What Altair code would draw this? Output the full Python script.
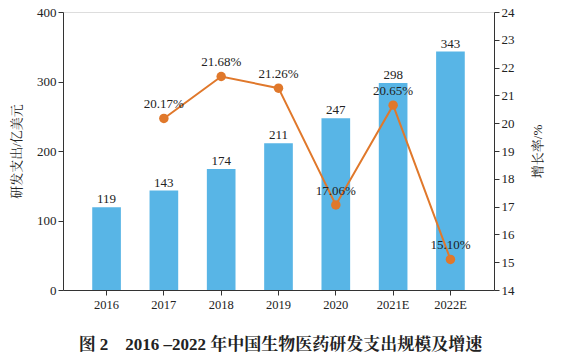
import altair as alt
import pandas as pd

years = ["2016", "2017", "2018", "2019", "2020", "2021E", "2022E"]
spend = [119, 143, 174, 211, 247, 298, 343]
growth_years = ["2017", "2018", "2019", "2020", "2021E", "2022E"]
growth = [20.17, 21.68, 21.26, 17.06, 20.65, 15.10]
growth_labels = ["20.17%", "21.68%", "21.26%", "17.06%", "20.65%", "15.10%"]
left_ticks = [0, 100, 200, 300, 400]
right_ticks = [14, 15, 16, 17, 18, 19, 20, 21, 22, 23, 24]

bars_df = pd.DataFrame({"year": years, "spend": spend})
line_df = pd.DataFrame({"year": growth_years, "growth": growth, "label": growth_labels})

FONT = "Liberation Serif, Noto Serif CJK SC, Noto Sans CJK SC"
BAR = "#58b5e6"
LINE = "#e0782b"
AX = "#333333"

xenc = alt.X(
    "year:N",
    sort=years,
    scale=alt.Scale(paddingInner=0.5, paddingOuter=0.51),
    axis=alt.Axis(title=None, labelAngle=0, labelFontSize=12.5, labelColor="#222",
                  domainColor=AX, tickColor=AX, tickSize=5, labelPadding=3),
)

yleft = alt.Y(
    "spend:Q",
    scale=alt.Scale(domain=[0, 400]),
    axis=alt.Axis(title="研发支出/亿美元", values=left_ticks, grid=False,
                  labelFontSize=13, titleFontSize=13, titleFontWeight="normal",
                  titleColor="#222", labelColor="#222", domainColor=AX, tickColor=AX,
                  tickSize=5, titlePadding=13, labelOverlap=False),
)

bars = alt.Chart(bars_df).mark_bar(color=BAR).encode(x=xenc, y=yleft)
bar_text = alt.Chart(bars_df).mark_text(dy=-8, fontSize=13, font=FONT, color="#222").encode(
    x=xenc, y=yleft, text="spend:Q")

left = alt.layer(bars, bar_text)

yright = alt.Y(
    "growth:Q",
    scale=alt.Scale(domain=[14, 24]),
    axis=alt.Axis(title="增长率/%", orient="right", values=right_ticks, grid=False,
                  labelFontSize=13, titleFontSize=13, titleFontWeight="normal",
                  titleAngle=270, titleColor="#222", labelColor="#222", domainColor=AX,
                  tickColor=AX, tickSize=5, titlePadding=30, labelOverlap=False,
                  labelFlush=False),
)

line = alt.Chart(line_df).mark_line(color=LINE, strokeWidth=2).encode(x=xenc, y=yright)
pts = alt.Chart(line_df).mark_point(color=LINE, filled=True, size=90, opacity=1).encode(
    x=xenc, y=yright)
line_text = alt.Chart(line_df).mark_text(dy=-14, fontSize=13, font=FONT, color="#222").encode(
    x=xenc, y=yright, text="label:N")

right = alt.layer(line, pts, line_text)

chart = alt.layer(left, right).resolve_scale(y="independent").properties(
    width=431,
    height=278,
    autosize=alt.AutoSizeParams(type="none"),
    padding={"left": 63, "top": 12, "right": 73, "bottom": 64},
    title=alt.TitleParams(
        "图 2　2016 –2022 年中国生物医药研发支出规模及增速",
        orient="bottom", anchor="middle", fontSize=17, fontWeight="bold",
        font=FONT, color="#222", offset=26, dx=2,
    ),
).configure_view(stroke=AX, strokeWidth=1).configure(font=FONT)

chart.save("out.html", embed_options={"renderer": "svg", "actions": False})
